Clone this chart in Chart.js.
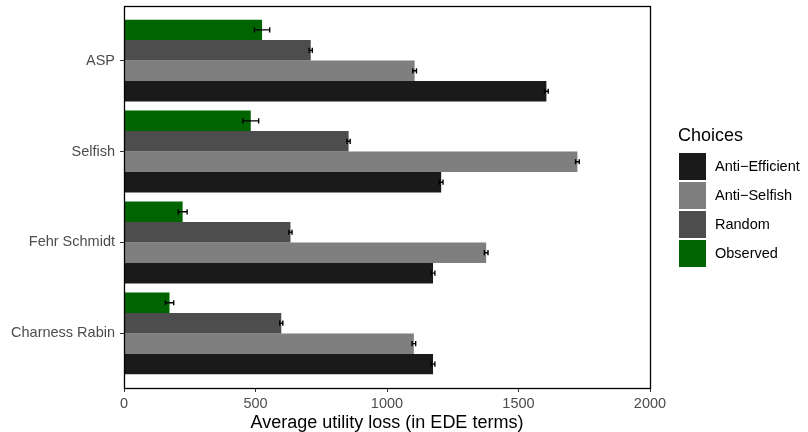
<!DOCTYPE html>
<html>
<head>
<meta charset="utf-8">
<script src="https://cdn.jsdelivr.net/npm/chart.js@4/dist/chart.umd.min.js"></script>
<style>
  html, body { margin: 0; padding: 0; background: #ffffff; }
  canvas { display: block; }
</style>
</head>
<body>
<canvas id="chart" width="808" height="432"></canvas>
<script>
// Categories (models), top to bottom
const categories = ['ASP', 'Selfish', 'Fehr Schmidt', 'Charness Rabin'];

// Average utility loss per choice rule, with half-widths of the error bars
const observed = [525, 482, 223, 173];
const observedErr = [29, 30, 17, 16];
const random = [710, 854, 633, 598];
const randomErr = [6, 6, 6, 6];
const antiSelfish = [1105, 1724, 1377, 1102];
const antiSelfishErr = [7, 7, 7, 7];
const antiEfficient = [1606, 1206, 1175, 1175];
const antiEfficientErr = [7, 7, 7, 7];

// Axis ticks and labels
const xTicks = [0, 500, 1000, 1500, 2000];
const xTitle = 'Average utility loss (in EDE terms)';
const legendTitle = 'Choices';
const legendOrder = ['Anti\u2212Efficient', 'Anti\u2212Selfish', 'Random', 'Observed'];

const FONT = '"Liberation Sans", Arial, Helvetica, sans-serif';

function series(label, values, errors, color) {
  return {
    label: label,
    data: values.map((v, i) => ({ x: v, y: i })),
    errors: errors,
    backgroundColor: color,
    borderWidth: 0,
    categoryPercentage: 0.9,
    barPercentage: 1.0
  };
}

const datasets = [
  series('Observed', observed, observedErr, '#006400'),
  series('Random', random, randomErr, '#4D4D4D'),
  series('Anti\u2212Selfish', antiSelfish, antiSelfishErr, '#7F7F7F'),
  series('Anti\u2212Efficient', antiEfficient, antiEfficientErr, '#1A1A1A')
];

// White page background
const background = {
  id: 'background',
  beforeDraw(chart) {
    const ctx = chart.ctx;
    ctx.save();
    ctx.fillStyle = '#ffffff';
    ctx.fillRect(0, 0, chart.width, chart.height);
    ctx.restore();
  }
};

// Horizontal error bars with small caps
const errorBars = {
  id: 'errorBars',
  afterDatasetsDraw(chart) {
    const ctx = chart.ctx;
    const xs = chart.scales.x;
    ctx.save();
    ctx.strokeStyle = '#000000';
    ctx.lineWidth = 1.4;
    chart.data.datasets.forEach((ds, di) => {
      const meta = chart.getDatasetMeta(di);
      meta.data.forEach((bar, i) => {
        const v = ds.data[i].x;
        const e = ds.errors[i];
        const x0 = xs.getPixelForValue(v - e);
        const x1 = xs.getPixelForValue(v + e);
        const y = bar.y;
        const h = 2.6;
        ctx.beginPath();
        ctx.moveTo(x0, y); ctx.lineTo(x1, y);
        ctx.moveTo(x0, y - h); ctx.lineTo(x0, y + h);
        ctx.moveTo(x1, y - h); ctx.lineTo(x1, y + h);
        ctx.stroke();
      });
    });
    ctx.restore();
  }
};

// Panel border and the legend on the right
const frameAndLegend = {
  id: 'frameAndLegend',
  afterDraw(chart) {
    const ctx = chart.ctx;
    const a = chart.chartArea;
    ctx.save();
    ctx.strokeStyle = '#000000';
    ctx.lineWidth = 1.3;
    ctx.strokeRect(Math.round(a.left) + 0.5, Math.round(a.top) + 0.5,
                   Math.round(a.right - a.left), Math.round(a.bottom - a.top));

    // legend
    const lx = 678;
    ctx.fillStyle = '#000000';
    ctx.font = '18px ' + FONT;
    ctx.textAlign = 'left';
    ctx.textBaseline = 'alphabetic';
    ctx.fillText(legendTitle, lx, 141);

    ctx.font = '14.5px ' + FONT;
    ctx.textBaseline = 'middle';
    legendOrder.forEach((name, k) => {
      const ds = chart.data.datasets.find(d => d.label === name);
      const top = 153 + 29 * k;
      ctx.fillStyle = ds.backgroundColor;
      ctx.fillRect(lx + 1, top, 27, 27);
      ctx.fillStyle = '#000000';
      ctx.fillText(name, 715, top + 14);
    });
    ctx.restore();
  }
};

new Chart(document.getElementById('chart'), {
  type: 'bar',
  data: { datasets: datasets },
  plugins: [background, errorBars, frameAndLegend],
  options: {
    indexAxis: 'y',
    responsive: false,
    animation: false,
    layout: { padding: { top: 6, right: 158, bottom: 0, left: 0 } },
    plugins: {
      legend: { display: false },
      tooltip: { enabled: false },
      title: { display: false }
    },
    scales: {
      x: {
        type: 'linear',
        min: 0,
        max: 2000,
        afterFit(scale) {
          scale.height = 44;
          scale.paddingLeft = 0;
          scale.paddingRight = 0;
        },
        afterBuildTicks(scale) { scale.ticks = xTicks.map(v => ({ value: v })); },
        border: { display: false },
        grid: {
          drawOnChartArea: false,
          drawTicks: true,
          tickLength: 4,
          color: '#333333',
          lineWidth: 1
        },
        ticks: {
          padding: 3,
          color: '#4D4D4D',
          font: { family: FONT, size: 14.5 },
          maxRotation: 0,
          callback: (value) => String(value)
        },
        title: {
          display: true,
          text: xTitle,
          color: '#000000',
          font: { family: FONT, size: 18 },
          padding: { top: 0, bottom: -2 }
        }
      },
      y: {
        type: 'linear',
        reverse: true,
        offset: false,
        min: -0.6,
        max: categories.length - 1 + 0.6,
        afterFit(scale) {
          scale.width = 124;
          scale.paddingTop = 0;
          scale.paddingBottom = 0;
        },
        afterBuildTicks(scale) { scale.ticks = categories.map((c, i) => ({ value: i })); },
        border: { display: false },
        grid: {
          offset: false,
          drawOnChartArea: false,
          drawTicks: true,
          tickLength: 4,
          color: '#333333',
          lineWidth: 1
        },
        ticks: {
          padding: 5,
          color: '#4D4D4D',
          font: { family: FONT, size: 14.5 },
          callback: (value) => categories[value]
        }
      }
    }
  }
});
</script>
</body>
</html>
